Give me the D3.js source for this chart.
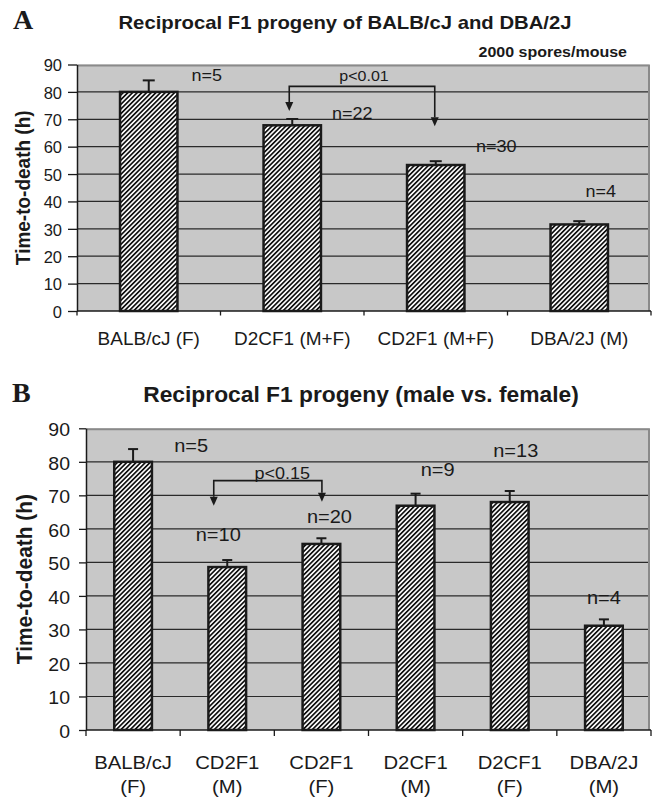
<!DOCTYPE html>
<html>
<head>
<meta charset="utf-8">
<script src="https://cdn.jsdelivr.net/npm/d3@7"></script>
<style>
  body { margin: 0; background: #fff; }
  text { fill: #1a1a1a; }
</style>
</head>
<body>
<svg width="655" height="800"></svg>
<script>
// panel A data
var catsA = [["BALB/cJ (F)"], ["D2CF1 (M+F)"], ["CD2F1 (M+F)"], ["DBA/2J (M)"]];
var meansA = [80, 67.8, 53.3, 31.6];
var errA = [4.2, 2.3, 1.4, 1.2];
var nA = [5, 22, 30, 4];

// panel B data
var catsB = [["BALB/cJ", "(F)"], ["CD2F1", "(M)"], ["CD2F1", "(F)"], ["D2CF1", "(M)"], ["D2CF1", "(F)"], ["DBA/2J", "(M)"]];
var meansB = [80, 48.6, 55.5, 66.9, 68, 31.1];
var errB = [3.8, 2.1, 1.7, 3.6, 3.3, 1.9];
var nB = [5, 10, 20, 9, 13, 4];

var yTicks = [0, 10, 20, 30, 40, 50, 60, 70, 80, 90];

// where the n= labels sit: [x offset from bar centre (px), height in y units]
var nPosA = [[58, 83.9], [60, 70.1], [60.5, 57.9], [21.5, 41.8]];
var nPosB = [[58, 82.9], [-9, 56.5], [8, 61.7], [22, 75.9], [6, 81.4], [0, 37.5]];

var SY = 0.95; // the scanned figure is a little squashed vertically
var SANS = "'Liberation Sans', Arial, sans-serif";
var SERIF = "'Liberation Serif', 'Times New Roman', serif";

var svg = d3.select("svg");

var defs = svg.append("defs");
var pat = defs.append("pattern")
    .attr("id", "hatch")
    .attr("patternUnits", "userSpaceOnUse")
    .attr("width", 3.3).attr("height", 3.3)
    .attr("patternTransform", "rotate(45)");
pat.append("rect").attr("width", 3.3).attr("height", 3.3).attr("fill", "#fff");
pat.append("rect").attr("width", 1.7).attr("height", 3.3).attr("fill", "#111");

function txt(g, x, y, s, size, o) {
    o = o || {};
    var tr = "translate(" + x + "," + y + ") scale(1," + SY + ")" + (o.rot ? " rotate(-90)" : "");
    return g.append("text")
        .attr("transform", tr)
        .attr("text-anchor", o.anchor || "middle")
        .style("font-size", size + "px")
        .style("font-weight", o.bold ? "bold" : "normal")
        .style("font-family", o.serif ? SERIF : SANS)
        .text(s);
}

function drawPanel(p) {
    var g = svg.append("g");

    var x = d3.scaleBand()
        .domain(p.cats.map(function(d, i) { return i; }))
        .range([p.l, p.r])
        .paddingInner(0.6).paddingOuter(0.3);
    var y = d3.scaleLinear().domain([0, 90]).range([p.b, p.t]);

    // plot background
    g.append("rect")
        .attr("x", p.l).attr("y", y(90))
        .attr("width", p.r - p.l - 2).attr("height", y(0) - y(90))
        .attr("fill", "#c8c8c8");

    // grid
    g.selectAll(".grid")
        .data(yTicks.filter(function(d) { return d > 0 && d < 90; }))
        .enter().append("line")
        .attr("x1", p.l).attr("x2", p.r - 2)
        .attr("y1", function(d) { return y(d); })
        .attr("y2", function(d) { return y(d); })
        .attr("stroke", "#2a2a2a").attr("stroke-width", 1.2);

    // grey frame top and right
    g.append("path")
        .attr("d", "M" + p.l + "," + (y(90) + 1) + "H" + (p.r - 2) + "V" + y(0))
        .attr("fill", "none").attr("stroke", "#8a8a8a").attr("stroke-width", 2);

    // y axis
    var ya = g.append("g")
        .attr("transform", "translate(" + p.l + ",0)")
        .call(d3.axisLeft(y).tickValues(yTicks).tickSize(p.tick).tickSizeOuter(0).tickPadding(p.tickPad));
    ya.select(".domain").attr("stroke", "#1a1a1a").attr("stroke-width", 1.5);
    ya.selectAll(".tick line").attr("stroke", "#1a1a1a").attr("stroke-width", 1.3);
    ya.selectAll(".tick text")
        .style("font-size", p.tickFont + "px")
        .style("font-family", SANS)
        .attr("fill", "#1a1a1a")
        .attr("dy", "0.4em")
        .attr("transform", "scale(1," + SY + ")");

    // x axis with ticks at category borders
    g.append("line")
        .attr("x1", p.l).attr("x2", p.r)
        .attr("y1", y(0)).attr("y2", y(0))
        .attr("stroke", "#1a1a1a").attr("stroke-width", 1.5);
    var step = x.step();
    g.selectAll(".xt")
        .data(d3.range(p.cats.length + 1))
        .enter().append("line")
        .attr("x1", function(i) { return p.l + i * step; })
        .attr("x2", function(i) { return p.l + i * step; })
        .attr("y1", y(0)).attr("y2", y(0) + p.xtick)
        .attr("stroke", "#1a1a1a").attr("stroke-width", 1.3);

    p.cats.forEach(function(lines, i) {
        var cx = x(i) + x.bandwidth() / 2;
        lines.forEach(function(s, j) {
            txt(g, cx, y(0) + p.labY + j * p.labGap, s, p.labFont);
        });
    });

    // bars
    g.selectAll(".bar")
        .data(p.means)
        .enter().append("rect")
        .attr("x", function(d, i) { return x(i); })
        .attr("y", function(d) { return y(d); })
        .attr("width", x.bandwidth())
        .attr("height", function(d) { return y(0) - y(d); })
        .attr("fill", "url(#hatch)")
        .attr("stroke", "#1a1a1a").attr("stroke-width", 2.5);

    // error bars (upper only)
    p.means.forEach(function(m, i) {
        var cx = x(i) + x.bandwidth() / 2;
        g.append("line")
            .attr("x1", cx).attr("x2", cx)
            .attr("y1", y(m)).attr("y2", y(m + p.errs[i]))
            .attr("stroke", "#1a1a1a").attr("stroke-width", 2);
        g.append("line")
            .attr("x1", cx - p.cap / 2).attr("x2", cx + p.cap / 2)
            .attr("y1", y(m + p.errs[i])).attr("y2", y(m + p.errs[i]))
            .attr("stroke", "#1a1a1a").attr("stroke-width", 2);
    });

    // n labels
    p.ns.forEach(function(n, i) {
        var cx = x(i) + x.bandwidth() / 2;
        txt(g, cx + p.nPos[i][0], y(p.nPos[i][1]), "n=" + n, p.nFont);
    });

    // significance bracket
    var br = p.bracket;
    var x1 = x(br.from) + x.bandwidth() / 2 + br.dxFrom,
        x2 = x(br.to) + x.bandwidth() / 2 + br.dxTo;
    var ah = 9, aw = 4;
    g.append("path")
        .attr("d", "M" + x1 + "," + (y(br.tipFrom) - ah) + "V" + y(br.y) + "H" + x2 + "V" + (y(br.tipTo) - ah))
        .attr("fill", "none").attr("stroke", "#1a1a1a").attr("stroke-width", 1.6);
    [[x1, br.tipFrom], [x2, br.tipTo]].forEach(function(a) {
        var ty = y(a[1]);
        g.append("path")
            .attr("d", "M" + (a[0] - aw) + "," + (ty - ah) + "L" + (a[0] + aw) + "," + (ty - ah) + "L" + a[0] + "," + ty + "Z")
            .attr("fill", "#1a1a1a");
    });
    txt(g, (x1 + x2) / 2 + br.labelDx, y(br.labelY), br.label, p.pFont);

    // titles
    txt(g, p.titleX, p.titleY, p.title, p.titleFont, { bold: true });
    txt(g, p.letterX, p.titleY, p.letter, p.letterFont, { bold: true, serif: true, anchor: "start" });
    txt(g, p.yTitleX, (p.t + p.b) / 2, "Time-to-death (h)", p.yTitleFont, { bold: true, rot: true });
    if (p.note) txt(g, p.r - 24, p.t - 8, p.note, 16, { bold: true, anchor: "end" });
}

drawPanel({
    cats: catsA, means: meansA, errs: errA, ns: nA, nPos: nPosA,
    l: 77, r: 651, t: 64.5, b: 311,
    tick: 9, tickPad: 6, tickFont: 16.5, xtick: 4.5,
    labY: 34, labGap: 0, labFont: 19, nFont: 18, pFont: 16, cap: 12,
    bracket: { from: 1, to: 2, dxFrom: -3, dxTo: -1, y: 82, tipFrom: 73, tipTo: 67.5, label: "p<0.01", labelY: 84, labelDx: 2 },
    title: "Reciprocal F1 progeny of BALB/cJ and DBA/2J", titleX: 345, titleY: 28.5, titleFont: 20.3,
    letter: "A", letterX: 13, letterFont: 28,
    yTitleX: 30, yTitleFont: 20,
    note: "2000 spores/mouse"
});

drawPanel({
    cats: catsB, means: meansB, errs: errB, ns: nB, nPos: nPosB,
    l: 86, r: 651, t: 428.3, b: 730,
    tick: 7, tickPad: 9, tickFont: 19.5, xtick: 6,
    labY: 39, labGap: 24, labFont: 20.3, nFont: 20, pFont: 18, cap: 10,
    bracket: { from: 1, to: 2, dxFrom: -13.5, dxTo: 0.5, y: 74.4, tipFrom: 66.9, tipTo: 68.1, label: "p<0.15", labelY: 74.9, labelDx: 14.5 },
    title: "Reciprocal F1 progeny (male vs. female)", titleX: 361, titleY: 402, titleFont: 22.8,
    letter: "B", letterX: 12, letterFont: 28,
    yTitleX: 32, yTitleFont: 22
});
</script>
</body>
</html>
